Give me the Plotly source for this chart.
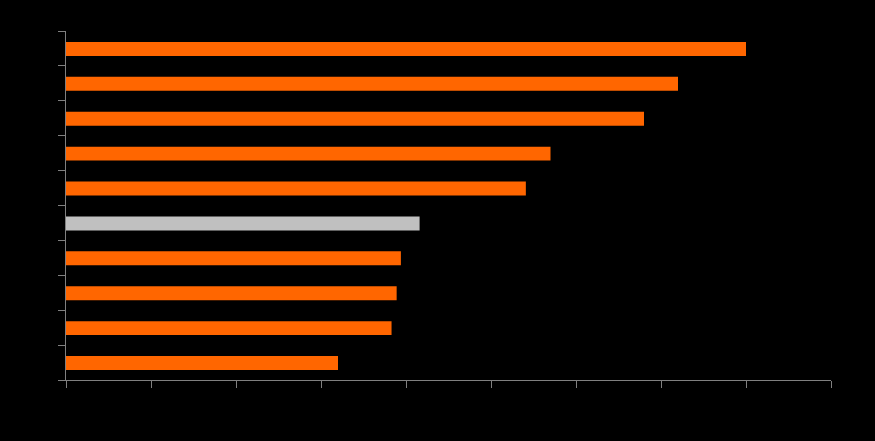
import plotly.graph_objects as go

# Values, top bar first (x axis 0..90)
categories = ["A", "B", "C", "D", "E", "F", "G", "H", "I", "J"]
values = [80.0, 72.0, 68.0, 57.0, 54.1, 41.6, 39.4, 38.9, 38.3, 32.0]
highlight = "F"

colors = ["#C0C0C0" if c == highlight else "#FF6600" for c in categories]
positions = list(range(len(categories)))

fig = go.Figure(go.Bar(
    x=values,
    y=positions,
    orientation="h",
    marker=dict(color=colors, line=dict(width=0)),
    width=0.4,
    offset=-0.186,
    hoverinfo="x",
))

fig.update_layout(
    width=875, height=441,
    margin=dict(l=66, r=44, t=31, b=61),
    paper_bgcolor="#000000",
    plot_bgcolor="#000000",
    showlegend=False,
    xaxis=dict(
        range=[0, 90], tickvals=list(range(0, 91, 10)),
        showticklabels=False, showgrid=False, zeroline=False,
        showline=True, linecolor="#808080", linewidth=1,
        ticks="outside", ticklen=7, tickcolor="#808080", tickwidth=1,
    ),
    yaxis=dict(
        range=[len(categories) - 0.5, -0.5],
        tickvals=[i - 0.5 for i in range(len(categories) + 1)],
        showticklabels=False, showgrid=False, zeroline=False,
        showline=True, linecolor="#808080", linewidth=1,
        ticks="outside", ticklen=7, tickcolor="#808080", tickwidth=1,
    ),
)

fig.write_html(
    "out.html",
    config={"displayModeBar": False},
    post_script="document.body.style.margin='0';document.body.style.background='#000';",
)
